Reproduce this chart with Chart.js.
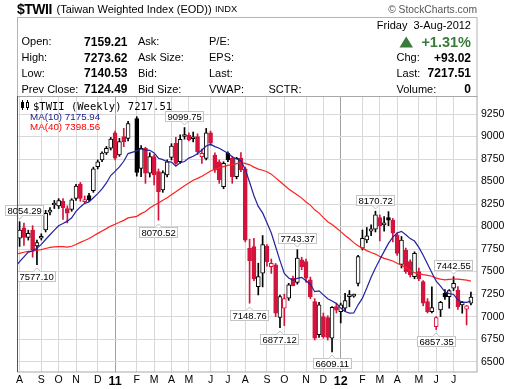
<!DOCTYPE html>
<html><head><meta charset="utf-8">
<script src="https://cdn.jsdelivr.net/npm/chart.js@4.4.1/dist/chart.umd.min.js"></script>
<style>
body{margin:0;background:#fff;font-family:"Liberation Sans",Arial,sans-serif;}
#wrap{position:relative;width:517px;height:389px;overflow:hidden;background:#fff}
canvas{position:absolute;left:0;top:0}
.t{position:absolute;white-space:nowrap;line-height:1;color:#000;font-size:11px}
.b{font-weight:bold;font-size:12px}
.r{transform:translateX(-100%)}
</style></head><body>
<div id="wrap">
<canvas id="c" width="517" height="389"></canvas>
<div class="t" style="left:17px;top:2px;font-size:14px;font-weight:bold;letter-spacing:-0.5px">$TWII</div>
<div class="t" style="left:56.5px;top:4px;font-size:11px">(Taiwan Weighted Index (EOD))</div>
<div class="t" style="left:215px;top:5px;font-size:9.3px">INDX</div>
<div class="t" style="right:40px;top:4.5px;font-size:10.3px;color:#555">© StockCharts.com</div>

<div class="t r" style="left:471px;top:20px">Friday&nbsp; 3-Aug-2012</div>

<div class="t" style="left:21.5px;top:36.3px">Open:</div>
<div class="t" style="left:21.5px;top:52.1px">High:</div>
<div class="t" style="left:21.5px;top:67.9px">Low:</div>
<div class="t" style="left:21.5px;top:83.8px">Prev Close:</div>
<div class="t b r" style="left:127.5px;top:35.8px">7159.21</div>
<div class="t b r" style="left:127.5px;top:51.6px">7273.62</div>
<div class="t b r" style="left:127.5px;top:67.4px">7140.53</div>
<div class="t b r" style="left:127.5px;top:83.3px">7124.49</div>

<div class="t" style="left:138px;top:36.3px">Ask:</div>
<div class="t" style="left:138px;top:52.1px">Ask Size:</div>
<div class="t" style="left:138px;top:67.9px">Bid:</div>
<div class="t" style="left:138px;top:83.8px">Bid Size:</div>

<div class="t" style="left:209px;top:36.3px">P/E:</div>
<div class="t" style="left:209px;top:52.1px">EPS:</div>
<div class="t" style="left:209px;top:67.9px">Last:</div>
<div class="t" style="left:209px;top:83.8px">VWAP:</div>
<div class="t" style="left:268.5px;top:83.8px">SCTR:</div>

<div class="t r" style="left:471px;top:35px;font-size:14.5px;font-weight:bold;color:#3a7a3a">+1.31%</div>
<div class="t" style="left:396.5px;top:52.1px">Chg:</div>
<div class="t" style="left:396.5px;top:67.9px">Last:</div>
<div class="t" style="left:396.5px;top:83.8px">Volume:</div>
<div class="t b r" style="left:471px;top:51.6px">+93.02</div>
<div class="t b r" style="left:471px;top:67.4px">7217.51</div>
<div class="t b r" style="left:471px;top:83.3px">0</div>

<div class="t" style="left:33px;top:100.5px;font-family:'DejaVu Sans Mono',monospace;font-size:10.5px">$TWII (Weekly) 7217.51</div>
<div class="t" style="left:30px;top:111.7px;font-size:9.8px;color:#1a1a8a">MA(10) 7175.94</div>
<div class="t" style="left:30px;top:122.2px;font-size:9.8px;color:#ff0000">MA(40) 7398.56</div>
</div>
<script>
// ---------- data (weekly bars, week 0 = week of 2-Aug-2010) ----------
const firstWeekMonday = '2010-08-02';
const opens = [
7870,7985,7880,7960,7785,7870,7962,8160,8240,8230,
8280,8200,8190,8314,8473,8277,8345,8400,8665,8740,
8817,8870,9042,8795,9000,8980,null,9200,8647,8870,
8592,8776,8610,8406,8573,8769,8924,8720,9000,9017,
8975,9000,8776,8758,9042,8795,8720,8443,8814,8758,
8554,8758,8640,7758,7777,7333,7482,7780,7556,7574,
6990,7093,7204,7426,7380,7630,7610,7408,7167,6800,
7000,6990,6760,7111,7056,7093,7222,7228,7370,7759,
7851,7950,7970,8101,8018,8100,8073,7907,7580,7740,
7610,7444,7500,7389,7167,7056,6889,7074,7259,7222,
7315,7296,7130,7083,7148];
const highs = [
8054.29,8040,7960,8010,7850,7920,8180,8210,8290,8310,
8310,8230,8310,8470,8490,8340,8370,8660,8740,8830,
8890,8990,9060,8980,9091,9170,null,9220.69,8900,8880,
8820,8800,8640,8620,8740,8920,8990,9020,9099.75,9040,
9050,9030,8860,9090,9060,8820,8740,8720,8830,8780,
8770,8822,8660,7860,7870,7593,7900,7800,7640,7590,
7240,7250,7370,7450,7743.37,7660,7640,7440,7200,7160,
7040,7010,7111,7150,7150,7260,7290,7250,7680,7962,
7990,8020,8170.72,8130,8110,8166,8090,7930,7890,7760,
7630,7720,7540,7400,7200,7330,7000,7170,7300,7300,
7442.55,7333,7170,7125,7273.62];
const lows = [
7780,7790,7850,7660,7577.10,7850,7940,8130,8200,8200,
8080,8040,8170,8290,8280,8260,8280,8380,8640,8720,
8800,8850,8740,8780,8887,8950,null,8560,8554,8480,
8550,8462,8070.52,8380,8550,8740,8690,8700,8970,8950,
8940,8800,8700,8740,8900,8600,8480,8420,8720,8480,
8530,8610,7830,7148.76,7400,7241,7330,7560,7480,7000,
6877.12,6900,7180,7340,7360,7520,7380,7200,6740,6770,
6760,6740,6609.11,7040,6930,7060,7110,7215,7340,7740,
7820,7900,7940,7840,7950,8010,7830,7680,7540,7480,
7440,7420,7400,7120,7040,7040,6857.35,7000,7190,7093,
7290,7080,7038,6908,7130];
const closes = [
7962,7880,7925,7740,7821,7890,8148,8175,8255,8290,
8210,8150,8296,8451,8314,8290,8300,8640,8720,8815,
8870,8972,8760,8943,8942,9145,null,8600,8869,8592,
8776,8573,8388,8600,8720,8894,8702,8969,9017,8961,
8990,8833,8814,9042,8925,8628,8517,8702,8740,8554,
8758,8628,7850,7621,7420,7444,7800,7610,7593,7038,
7222,7200,7352,7345,7650,7555,7426,7222,6760,7130,
6778,6770,7104,7072,7130,7178,7240,7242,7666,7870,
7896,7975,8129,8007,8040,8072,7926,7703,7850,7500,
7463,7703,7420,7148,7056,7100,6990,7160,7220,7290,
7370,7110,7160,7120,7217.51];
// weekly net change vs prior week as shown (u = up/unchanged, d = down)
const netChange = ('ududuuuuuu'+'dduudduuuu'+'uududu-uud'+'udduuuduud'+'udduddduud'+
  'udddduuddd'+'udududdddu'+'dduduuuuuu'+'uuuduuddud'+'duddduduuu'+'ududu').split('');
// closes of the 40 weeks before the first bar (needed for the moving averages)
const priorCloses = [7340,7400,7550,7600,7450,7620,7650,7670,8050,8188,8230,8350,7900,7640,
  7400,7450,7450,7450,7600,7750,7820,7850,7950,8050,8100,8050,7920,7650,7650,7200,
  7380,7350,7400,7600,7550,7450,7600,7650,7750,7800];
const yTicks = [6500,6750,7000,7250,7500,7750,8000,8250,8500,8750,9000,9250];
const monthLetters = ['J','F','M','A','M','J','J','A','S','O','N','D'];
const highMarks = [0,38,64,82,100];
const lowMarks = [4,32,53,60,72,96];

// ---------- derived ----------
const N = closes.length;
const DAY = 86400000;
const t0 = Date.parse(firstWeekMonday + 'T00:00:00Z');
const monthOf = i => new Date(t0 + i*7*DAY).getUTCMonth();
const yearOf = i => new Date(t0 + i*7*DAY).getUTCFullYear();
const monthTicks = [];
for (let i = 0; i < N; i++) if (i === 0 || monthOf(i) !== monthOf(i-1)) monthTicks.push(i);
const tickLabel = v => monthOf(v) === 0 ? String(yearOf(v) % 100).padStart(2,'0') : monthLetters[monthOf(v)];

const RED = '#d4143c', BLACK = '#000';
const wickData = [], bodyData = [], wickCol = [], bodyFill = [], bodyLine = [];
for (let i = 0; i < N; i++) {
  if (closes[i] == null) continue;
  const col = netChange[i] === 'd' ? RED : BLACK;
  wickData.push({x:i, y:[lows[i], highs[i]]}); wickCol.push(col);
  bodyData.push({x:i, y:[Math.min(opens[i],closes[i]), Math.max(opens[i],closes[i])]});
  bodyLine.push(col); bodyFill.push(closes[i] > opens[i] ? '#fff' : col);
}
function movingAvg(n) {
  const seq = priorCloses.map((c,k) => ({x: k - priorCloses.length, c}));
  for (let i = 0; i < N; i++) if (closes[i] != null) seq.push({x:i, c:closes[i]});
  const out = [];
  for (let k = n-1; k < seq.length; k++) {
    if (seq[k].x < -1) continue;
    let s = 0; for (let j = k-n+1; j <= k; j++) s += seq[j].c;
    out.push({x: seq[k].x, y: s/n});
  }
  return out;
}

function drawTag(ctx, x, y, text, below) {
  ctx.save();
  ctx.font = '9.5px "Liberation Sans", Arial, sans-serif';
  const w = Math.round(ctx.measureText(text).width) + 5, h = 11;
  let bx = Math.round(x - w/2); if (bx < 5) bx = 5;
  const by = below ? Math.round(y + 6.5) : Math.round(y - 5.5 - h);
  ctx.fillStyle = '#fff'; ctx.fillRect(bx, by, w, h);
  ctx.strokeStyle = '#c4c4c4'; ctx.lineWidth = 1;
  ctx.strokeRect(bx + 0.5, by + 0.5, w - 1, h - 1);
  ctx.beginPath();
  if (below) { ctx.moveTo(x-3.5, by+0.5); ctx.lineTo(x, by-3); ctx.lineTo(x+3.5, by+0.5); }
  else { ctx.moveTo(x-3.5, by+h-0.5); ctx.lineTo(x, by+h+3); ctx.lineTo(x+3.5, by+h-0.5); }
  ctx.fill(); ctx.stroke();
  ctx.fillStyle = '#000'; ctx.textBaseline = 'middle'; ctx.textAlign = 'left';
  ctx.fillText(text, bx + 2.5, by + h/2 + 0.5);
  ctx.restore();
}

const framePlugin = {
  id: 'frame',
  beforeDraw(chart) {
    const ctx = chart.ctx;
    ctx.save();
    ctx.fillStyle = '#fff'; ctx.fillRect(0, 0, chart.width, chart.height);
    ctx.strokeStyle = '#b4b4b4'; ctx.lineWidth = 1;
    ctx.strokeRect(17.5, 17.5, 459.5, 79);
    // green up triangle
    ctx.fillStyle = '#3a7a3a';
    ctx.beginPath(); ctx.moveTo(399.5, 47.5); ctx.lineTo(413, 47.5); ctx.lineTo(406.2, 36.5); ctx.closePath(); ctx.fill();
    ctx.restore();
  },
  afterDatasetsDraw(chart) {
    const ctx = chart.ctx, xs = chart.scales.x, ys = chart.scales.y;
    highMarks.forEach(i => drawTag(ctx, xs.getPixelForValue(i), ys.getPixelForValue(highs[i]), highs[i].toFixed(2), false));
    lowMarks.forEach(i => drawTag(ctx, xs.getPixelForValue(i), ys.getPixelForValue(lows[i]), lows[i].toFixed(2), true));
  },
  afterDraw(chart) {
    const ctx = chart.ctx, a = chart.chartArea;
    ctx.save();
    ctx.strokeStyle = '#a8a8a8'; ctx.lineWidth = 1;
    ctx.strokeRect(a.left + 0.5, a.top + 0.5, a.right - a.left - 0.5, a.bottom - a.top - 0.5);
    ctx.strokeStyle = '#555';
    ctx.beginPath(); ctx.moveTo(a.left + 0.5, a.top); ctx.lineTo(a.left + 0.5, a.bottom); ctx.stroke();
    // legend candle icon
    ctx.fillStyle = '#000'; ctx.strokeStyle = '#000';
    ctx.fillRect(21, 102, 3, 6); ctx.fillRect(22, 100, 1, 10);
    ctx.strokeRect(26.5, 102.5, 2, 5); ctx.fillRect(27, 100, 1, 2); ctx.fillRect(27, 108, 1, 2);
    ctx.restore();
  }
};

new Chart(document.getElementById('c'), {
  type: 'bar',
  data: {
    datasets: [
      { type:'line', label:'MA(10)', data: movingAvg(10), borderColor:'#2222a0', borderWidth:1.2,
        pointRadius:0, tension:0, order:1 },
      { type:'line', label:'MA(40)', data: movingAvg(40), borderColor:'#ff2020', borderWidth:1.2,
        pointRadius:0, tension:0, order:2 },
      { label:'body', data: bodyData, backgroundColor: bodyFill, borderColor: bodyLine, borderWidth:1,
        borderSkipped:false, barThickness:4, minBarLength:2, grouped:false, order:3 },
      { label:'wick', data: wickData, backgroundColor: wickCol, borderWidth:0,
        barThickness:1, grouped:false, order:4 }
    ]
  },
  options: {
    responsive:false, animation:false, events:[],
    layout:{ padding:{ left:17, top:96, right:0, bottom:0 } },
    plugins:{ legend:{display:false}, tooltip:{enabled:false} },
    scales:{
      x:{ type:'linear', min:-0.6, max:105.4, offset:false,
        afterBuildTicks: s => { s.ticks = monthTicks.map(v => ({value:v})); },
        afterFit: s => { s.height = 17; },
        ticks:{ autoSkip:false, maxRotation:0, padding:2, color:'#000',
          callback: v => tickLabel(v),
          font: c => (c.tick && monthOf(c.tick.value) === 0)
            ? {family:'"Liberation Sans", Arial', size:12.5, weight:'bold'}
            : {family:'"Liberation Sans", Arial', size:10.5} },
        grid:{ drawTicks:false, offset:false,
          color: c => (c.tick && monthOf(c.tick.value) === 0) ? '#a0a0a0' : '#d8d8d8' },
        border:{ display:false }
      },
      y:{ type:'linear', position:'right', min:6385, max:9450,
        afterBuildTicks: s => { s.ticks = yTicks.map(v => ({value:v})); },
        afterFit: s => { s.width = 40; },
        ticks:{ padding:4, color:'#000', callback: v => String(v),
          font:{family:'"Liberation Sans", Arial', size:10.5} },
        grid:{ drawTicks:false, color:'#d8d8d8' },
        border:{ display:false }
      }
    }
  },
  plugins:[framePlugin]
});
</script>
</body></html>
